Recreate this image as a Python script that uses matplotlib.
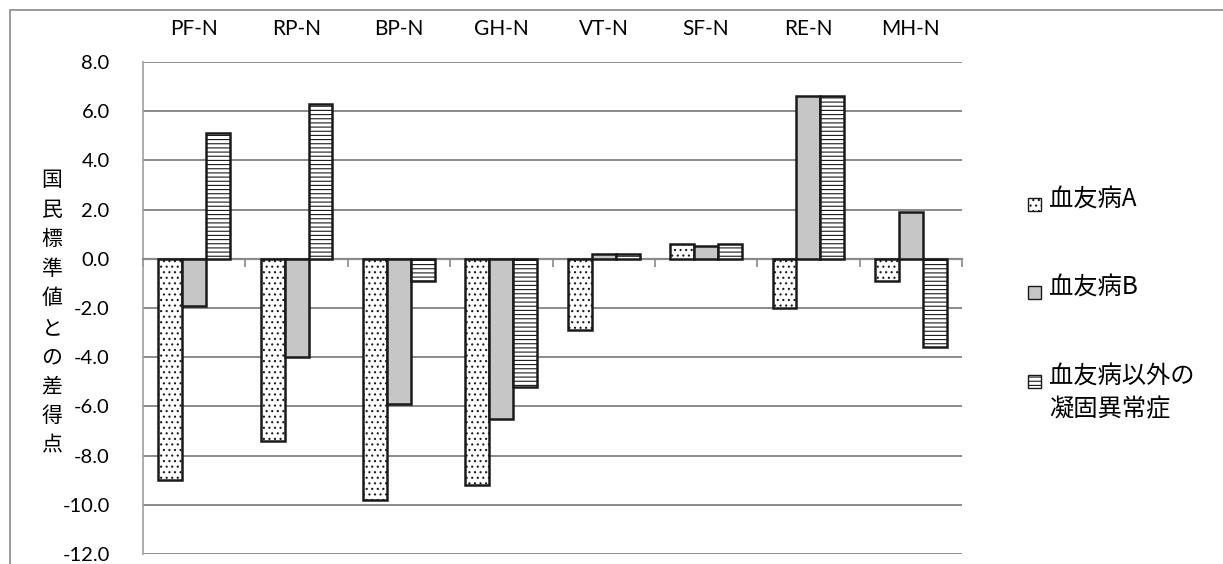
import matplotlib.pyplot as plt
import numpy as np
from matplotlib.patches import Rectangle

# data
categories = ['PF-N', 'RP-N', 'BP-N', 'GH-N', 'VT-N', 'SF-N', 'RE-N', 'MH-N']
series_names = ['血友病A', '血友病B', '血友病以外の\n凝固異常症']
hemo_a = [-9.0, -7.4, -9.8, -9.2, -2.9, 0.6, -2.0, -0.9]
hemo_b = [-1.9, -4.0, -5.9, -6.5, 0.2, 0.5, 6.6, 1.9]
other = [5.1, 6.3, -0.9, -5.2, 0.2, 0.6, 6.6, -3.6]
y_ticks = np.arange(-12, 9, 2)
y_label = '国民標準値との差得点'

plt.rcParams['font.family'] = ['Lato', 'Noto Sans CJK JP', 'DejaVu Sans']
plt.rcParams['hatch.linewidth'] = 0.8
cjk = ['Noto Sans CJK JP', 'DejaVu Sans']

fig = plt.figure(figsize=(12.23, 5.64), dpi=100)
W, H = 1223, 564
ax = fig.add_axes([143 / W, 1 - 554 / H, (962 - 143) / W, (554 - 62) / H])

x_pos = np.arange(len(categories)) + 0.5
width = 0.234
styles = [dict(facecolor='white', hatch='...'),
          dict(facecolor='#c6c6c6', hatch=None),
          dict(facecolor='white', hatch='----')]
for i, (vals, st) in enumerate(zip([hemo_a, hemo_b, other], styles)):
    ax.bar(x_pos + (i - 1) * width, vals, width=width, edgecolor='#1a1a1a',
           linewidth=1.8, zorder=3, label=series_names[i], **st)

ax.set_xlim(0, len(categories))
ax.set_ylim(-12, 8)
ax.set_yticks(y_ticks)
ax.set_yticklabels([f'{v:.1f}' for v in y_ticks])
ax.tick_params(axis='y', length=0, pad=24, labelsize=14.5)
ax.yaxis.grid(True, color='#8a8a8a', linewidth=1.4)
ax.set_axisbelow(True)

# category labels above the plot, small ticks on the zero line
ax.set_xticks(x_pos)
ax.set_xticklabels(categories)
ax.tick_params(axis='x', which='major', bottom=False, top=False,
               labelbottom=False, labeltop=True, pad=13, labelsize=15)
ax.set_xticks(np.arange(len(categories) + 1), minor=True)
ax.tick_params(axis='x', which='minor', bottom=True, top=False,
               direction='out', length=6, width=1.2, color='#8a8a8a')

for s in ['top', 'right']:
    ax.spines[s].set_visible(False)
ax.spines['bottom'].set_position(('data', 0))
ax.spines['bottom'].set_color('#8a8a8a')
ax.spines['bottom'].set_linewidth(1.6)
ax.spines['left'].set_color('#a0a0a0')
ax.spines['left'].set_linewidth(1.2)

fig.text(52 / W, 1 - 313 / H, '\n'.join(y_label), ha='center', va='center',
         fontsize=15, linespacing=1.44, family=cjk)

# legend drawn by hand: handle sits beside the first text line
leg_y = [202, 290, 379]
for name, st, yy in zip(series_names, styles, leg_y):
    fig.patches.append(Rectangle((1028 / W, 1 - (yy + 9) / H), 13 / W, 13 / H,
                                 transform=fig.transFigure, edgecolor='#1a1a1a',
                                 linewidth=1.0, **st))
    fig.text(1049 / W, 1 - (yy - 15) / H, name, ha='left', va='top',
             fontsize=17.5, linespacing=1.3, family=cjk)

# outer frame of the chart area
fig.patches.append(Rectangle((10 / W, -0.1), 1.2, 1.1 - 10 / H, transform=fig.transFigure,
                             fill=False, edgecolor='#9a9a9a', linewidth=1.4))

fig.savefig('out.png', dpi=100)
